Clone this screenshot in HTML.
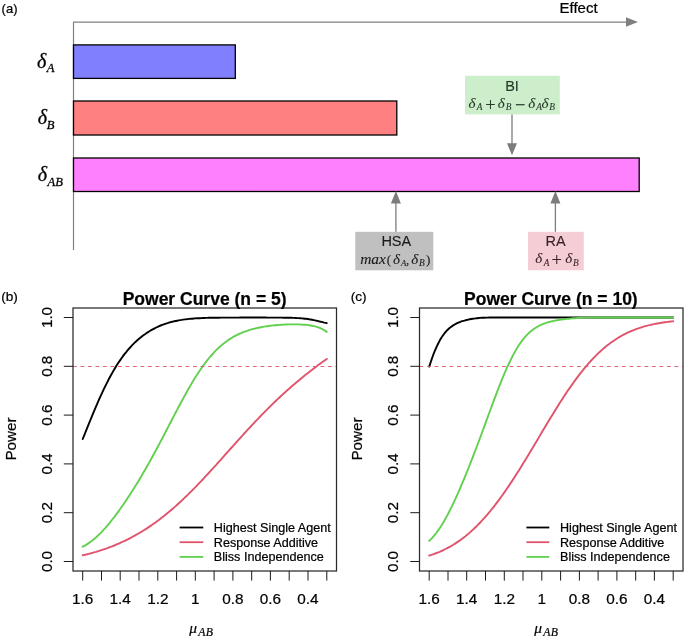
<!DOCTYPE html>
<html><head><meta charset="utf-8"><title>Figure</title>
<style>
html,body{margin:0;padding:0;background:#fff;}
body{width:685px;height:638px;overflow:hidden;font-family:"Liberation Sans",sans-serif;}
svg{display:block;will-change:transform;opacity:0.999;}
text{font-family:"Liberation Sans",sans-serif;fill:#000;stroke:#000;stroke-width:0.22px;stroke-linejoin:round;}
text.m{font-family:"Liberation Serif",serif;font-style:italic;stroke-width:0.2px;}
</style></head>
<body>
<svg width="685" height="638" viewBox="0 0 685 638">
<rect x="0" y="0" width="685" height="638" fill="#ffffff"/>
<!-- panel a -->
<line x1="73.5" y1="22.1" x2="73.5" y2="250" stroke="#808080" stroke-width="1.2"/>
<line x1="73" y1="22.1" x2="628" y2="22.1" stroke="#808080" stroke-width="1.2"/>
<path d="M626,17.3 L638,22 L626,26.7 Z" fill="#808080"/>
<rect x="73.5" y="44.9" width="161.8" height="33.5" fill="#8080FF" stroke="#000" stroke-width="1.3"/>
<rect x="73.5" y="101.0" width="323.3" height="34.0" fill="#FF8080" stroke="#000" stroke-width="1.3"/>
<rect x="73.5" y="158.0" width="565.7" height="33.5" fill="#FF80FF" stroke="#000" stroke-width="1.3"/>
<text class="m" style="fill:#000;stroke:#000;stroke-width:0.3px"><tspan x="37.10" y="68.00" font-size="20">δ</tspan><tspan x="46.73" y="72.20" font-size="12.6">A</tspan></text>
<text class="m" style="fill:#000;stroke:#000;stroke-width:0.3px"><tspan x="37.80" y="124.40" font-size="20">δ</tspan><tspan x="46.67" y="128.60" font-size="12.6">B</tspan></text>
<text class="m" style="fill:#000;stroke:#000;stroke-width:0.3px"><tspan x="37.80" y="181.30" font-size="20">δ</tspan><tspan x="47.43" y="185.50" font-size="12.6">A</tspan><tspan x="55.17" y="185.50" font-size="12.6">B</tspan></text>
<text x="1.6" y="12.8" font-size="13">(a)</text>
<text x="559.5" y="13" font-size="15">Effect</text>
<rect x="465" y="75.8" width="94.8" height="38.6" fill="#cdeecb"/>
<text x="512" y="91" text-anchor="middle" font-size="14.5" style="fill:#26392a;stroke:#26392a;stroke-width:0.12px">BI</text>
<text class="m" style="fill:#26392a;stroke:#26392a;stroke-width:0.1px"><tspan x="468.45" y="107.60" font-size="15">δ</tspan><tspan x="476.76" y="110.08" font-size="9.3">A</tspan><tspan x="485.18" y="110.50" font-size="18.5" font-style="normal">+</tspan><tspan x="497.85" y="107.60" font-size="15">δ</tspan><tspan x="505.71" y="110.08" font-size="9.3">B</tspan><tspan x="515.08" y="110.50" font-size="18.5" font-style="normal">−</tspan><tspan x="528.15" y="107.60" font-size="15">δ</tspan><tspan x="536.26" y="110.08" font-size="9.3">A</tspan><tspan x="541.55" y="107.60" font-size="15">δ</tspan><tspan x="549.31" y="110.08" font-size="9.3">B</tspan></text>
<line x1="512" y1="114.4" x2="512" y2="145" stroke="#7c7c7c" stroke-width="1.3"/>
<path d="M507,143.3 L517,143.3 L512,155.2 Z" fill="#7c7c7c"/>
<rect x="355.3" y="231.8" width="78" height="38.5" fill="#c0c0c0"/>
<text x="396.3" y="245.8" text-anchor="middle" font-size="14.5" style="fill:#1a1a1a;stroke:#1a1a1a;stroke-width:0.12px">HSA</text>
<text class="m" style="fill:#1a1a1a;stroke:#1a1a1a;stroke-width:0.1px"><tspan x="360.18" y="263.50" font-size="15.5">m</tspan><tspan x="371.24" y="263.50" font-size="15.5">a</tspan><tspan x="379.05" y="263.50" font-size="15.5">x</tspan><tspan x="386.68" y="263.50" font-size="13" font-style="normal">(</tspan><tspan x="392.95" y="263.50" font-size="15">δ</tspan><tspan x="401.04" y="265.85" font-size="8.8">A</tspan><tspan x="406.08" y="263.50" font-size="13" font-style="normal">,</tspan><tspan x="411.35" y="263.50" font-size="15">δ</tspan><tspan x="419.11" y="265.98" font-size="9.3">B</tspan><tspan x="426.01" y="263.50" font-size="13" font-style="normal">)</tspan></text>
<line x1="395.9" y1="231.8" x2="395.9" y2="202" stroke="#7c7c7c" stroke-width="1.3"/>
<path d="M390.9,203.6 L400.9,203.6 L395.9,191.0 Z" fill="#7c7c7c"/>
<rect x="528" y="231.8" width="55.8" height="38.5" fill="#f5cdd5"/>
<text x="555.6" y="245.8" text-anchor="middle" font-size="14.5" style="fill:#3a2328;stroke:#3a2328;stroke-width:0.12px">RA</text>
<text class="m" style="fill:#3a2328;stroke:#3a2328;stroke-width:0.1px"><tspan x="535.35" y="263.20" font-size="15">δ</tspan><tspan x="543.67" y="265.68" font-size="9.3">A</tspan><tspan x="551.48" y="266.10" font-size="18.5" font-style="normal">+</tspan><tspan x="565.25" y="263.20" font-size="15">δ</tspan><tspan x="572.91" y="265.68" font-size="9.3">B</tspan></text>
<line x1="555.4" y1="231.8" x2="555.4" y2="202" stroke="#7c7c7c" stroke-width="1.3"/>
<path d="M550.4,203.6 L560.4,203.6 L555.4,191.0 Z" fill="#7c7c7c"/>
<!-- panel b -->
<g fill="none" stroke-width="1.9" stroke-linecap="round" stroke-linejoin="round">
<path d="M82.7,439.0 L84.2,435.3 L85.7,431.6 L87.2,427.9 L88.7,424.2 L90.2,420.5 L91.7,416.9 L93.2,413.2 L94.7,409.6 L96.2,406.1 L97.7,402.6 L99.2,399.2 L100.7,395.8 L102.2,392.6 L103.7,389.4 L105.2,386.3 L106.7,383.3 L108.2,380.3 L109.7,377.5 L111.2,374.7 L112.7,372.1 L114.2,369.5 L115.7,367.0 L117.2,364.6 L118.7,362.3 L120.2,360.1 L121.7,358.0 L123.2,355.9 L124.7,353.9 L126.2,352.1 L127.7,350.2 L129.2,348.5 L130.7,346.8 L132.2,345.2 L133.7,343.7 L135.2,342.2 L136.7,340.8 L138.2,339.5 L139.7,338.2 L141.2,337.0 L142.7,335.8 L144.2,334.7 L145.7,333.7 L147.2,332.6 L148.7,331.7 L150.2,330.8 L151.7,329.9 L153.2,329.1 L154.7,328.3 L156.2,327.5 L157.7,326.8 L159.2,326.1 L160.7,325.5 L162.2,324.9 L163.7,324.4 L165.2,323.8 L166.7,323.3 L168.2,322.9 L169.7,322.4 L171.2,322.0 L172.7,321.6 L174.2,321.3 L175.7,321.0 L177.2,320.7 L178.7,320.4 L180.2,320.1 L181.7,319.9 L183.2,319.6 L184.7,319.4 L186.2,319.3 L187.7,319.1 L189.2,318.9 L190.7,318.8 L192.2,318.7 L193.7,318.5 L195.2,318.4 L196.7,318.3 L198.2,318.2 L199.7,318.2 L201.2,318.1 L202.7,318.0 L204.2,318.0 L205.7,317.9 L207.2,317.9 L208.7,317.8 L210.2,317.8 L211.7,317.8 L213.2,317.7 L214.7,317.7 L216.2,317.7 L217.7,317.7 L219.2,317.7 L220.7,317.6 L222.2,317.6 L223.7,317.6 L225.2,317.6 L226.7,317.6 L228.2,317.6 L229.7,317.6 L231.2,317.6 L232.7,317.6 L234.2,317.6 L235.7,317.6 L237.2,317.6 L238.7,317.6 L240.2,317.5 L241.7,317.5 L243.2,317.5 L244.7,317.5 L246.2,317.5 L247.7,317.5 L249.2,317.5 L250.7,317.5 L252.2,317.5 L253.7,317.5 L255.2,317.5 L256.7,317.5 L258.2,317.5 L259.7,317.5 L261.2,317.5 L262.7,317.5 L264.2,317.5 L265.7,317.5 L267.2,317.6 L268.7,317.6 L270.2,317.6 L271.7,317.6 L273.2,317.6 L274.7,317.6 L276.2,317.6 L277.7,317.6 L279.2,317.6 L280.7,317.6 L282.2,317.6 L283.7,317.7 L285.2,317.7 L286.7,317.7 L288.2,317.7 L289.7,317.8 L291.2,317.8 L292.7,317.9 L294.2,317.9 L295.7,318.0 L297.2,318.1 L298.7,318.1 L300.2,318.2 L301.7,318.4 L303.2,318.5 L304.7,318.7 L306.2,318.8 L307.7,319.0 L309.2,319.3 L310.7,319.5 L312.2,319.8 L313.7,320.1 L315.2,320.4 L316.7,320.8 L318.2,321.1 L319.7,321.5 L321.2,321.8 L322.7,322.2 L324.2,322.6 L325.7,322.9 L326.8,323.1" stroke="#000"/>
<path d="M82.7,555.3 L84.2,555.0 L85.7,554.6 L87.2,554.2 L88.7,553.9 L90.2,553.5 L91.7,553.1 L93.2,552.7 L94.7,552.2 L96.2,551.8 L97.7,551.3 L99.2,550.9 L100.7,550.4 L102.2,549.9 L103.7,549.4 L105.2,548.9 L106.7,548.4 L108.2,547.8 L109.7,547.2 L111.2,546.7 L112.7,546.1 L114.2,545.5 L115.7,544.9 L117.2,544.2 L118.7,543.6 L120.2,542.9 L121.7,542.2 L123.2,541.5 L124.7,540.8 L126.2,540.1 L127.7,539.4 L129.2,538.6 L130.7,537.8 L132.2,537.0 L133.7,536.2 L135.2,535.4 L136.7,534.5 L138.2,533.7 L139.7,532.8 L141.2,531.9 L142.7,531.0 L144.2,530.0 L145.7,529.1 L147.2,528.1 L148.7,527.1 L150.2,526.1 L151.7,525.1 L153.2,524.0 L154.7,523.0 L156.2,521.9 L157.7,520.8 L159.2,519.7 L160.7,518.5 L162.2,517.3 L163.7,516.2 L165.2,515.0 L166.7,513.7 L168.2,512.5 L169.7,511.3 L171.2,510.0 L172.7,508.7 L174.2,507.4 L175.7,506.1 L177.2,504.7 L178.7,503.3 L180.2,502.0 L181.7,500.6 L183.2,499.2 L184.7,497.7 L186.2,496.3 L187.7,494.8 L189.2,493.3 L190.7,491.9 L192.2,490.3 L193.7,488.8 L195.2,487.3 L196.7,485.8 L198.2,484.2 L199.7,482.6 L201.2,481.1 L202.7,479.5 L204.2,477.9 L205.7,476.2 L207.2,474.6 L208.7,473.0 L210.2,471.4 L211.7,469.7 L213.2,468.1 L214.7,466.4 L216.2,464.8 L217.7,463.1 L219.2,461.4 L220.7,459.8 L222.2,458.1 L223.7,456.4 L225.2,454.7 L226.7,453.0 L228.2,451.4 L229.7,449.7 L231.2,448.0 L232.7,446.3 L234.2,444.6 L235.7,443.0 L237.2,441.3 L238.7,439.6 L240.2,438.0 L241.7,436.3 L243.2,434.7 L244.7,433.0 L246.2,431.4 L247.7,429.7 L249.2,428.1 L250.7,426.5 L252.2,424.9 L253.7,423.3 L255.2,421.7 L256.7,420.1 L258.2,418.6 L259.7,417.0 L261.2,415.4 L262.7,413.9 L264.2,412.4 L265.7,410.8 L267.2,409.3 L268.7,407.8 L270.2,406.4 L271.7,404.9 L273.2,403.4 L274.7,402.0 L276.2,400.5 L277.7,399.1 L279.2,397.7 L280.7,396.3 L282.2,394.9 L283.7,393.5 L285.2,392.2 L286.7,390.8 L288.2,389.5 L289.7,388.2 L291.2,386.8 L292.7,385.5 L294.2,384.3 L295.7,383.0 L297.2,381.7 L298.7,380.5 L300.2,379.2 L301.7,378.0 L303.2,376.8 L304.7,375.5 L306.2,374.3 L307.7,373.2 L309.2,372.0 L310.7,370.8 L312.2,369.7 L313.7,368.5 L315.2,367.4 L316.7,366.3 L318.2,365.1 L319.7,364.0 L321.2,362.9 L322.7,361.8 L324.2,360.8 L325.7,359.7 L326.8,358.9" stroke="#DF536B"/>
<path d="M82.7,546.7 L84.2,545.9 L85.7,545.1 L87.2,544.1 L88.7,543.1 L90.2,542.1 L91.7,541.0 L93.2,539.8 L94.7,538.5 L96.2,537.2 L97.7,535.8 L99.2,534.4 L100.7,532.9 L102.2,531.3 L103.7,529.7 L105.2,528.1 L106.7,526.4 L108.2,524.6 L109.7,522.8 L111.2,520.9 L112.7,519.0 L114.2,517.1 L115.7,515.1 L117.2,513.1 L118.7,511.1 L120.2,509.0 L121.7,506.8 L123.2,504.7 L124.7,502.5 L126.2,500.3 L127.7,498.0 L129.2,495.7 L130.7,493.4 L132.2,491.1 L133.7,488.7 L135.2,486.3 L136.7,483.9 L138.2,481.4 L139.7,478.9 L141.2,476.4 L142.7,473.8 L144.2,471.3 L145.7,468.7 L147.2,466.0 L148.7,463.4 L150.2,460.7 L151.7,458.0 L153.2,455.3 L154.7,452.5 L156.2,449.7 L157.7,447.0 L159.2,444.1 L160.7,441.3 L162.2,438.5 L163.7,435.6 L165.2,432.7 L166.7,429.8 L168.2,426.9 L169.7,424.0 L171.2,421.2 L172.7,418.3 L174.2,415.4 L175.7,412.5 L177.2,409.6 L178.7,406.8 L180.2,404.0 L181.7,401.2 L183.2,398.4 L184.7,395.7 L186.2,393.0 L187.7,390.3 L189.2,387.7 L190.7,385.1 L192.2,382.5 L193.7,380.1 L195.2,377.6 L196.7,375.3 L198.2,372.9 L199.7,370.7 L201.2,368.5 L202.7,366.4 L204.2,364.3 L205.7,362.3 L207.2,360.4 L208.7,358.5 L210.2,356.7 L211.7,355.0 L213.2,353.3 L214.7,351.7 L216.2,350.2 L217.7,348.7 L219.2,347.3 L220.7,345.9 L222.2,344.7 L223.7,343.4 L225.2,342.3 L226.7,341.2 L228.2,340.1 L229.7,339.1 L231.2,338.2 L232.7,337.3 L234.2,336.4 L235.7,335.6 L237.2,334.9 L238.7,334.1 L240.2,333.5 L241.7,332.8 L243.2,332.2 L244.7,331.6 L246.2,331.1 L247.7,330.6 L249.2,330.1 L250.7,329.7 L252.2,329.2 L253.7,328.8 L255.2,328.5 L256.7,328.1 L258.2,327.8 L259.7,327.5 L261.2,327.2 L262.7,326.9 L264.2,326.6 L265.7,326.4 L267.2,326.2 L268.7,326.0 L270.2,325.8 L271.7,325.6 L273.2,325.4 L274.7,325.3 L276.2,325.2 L277.7,325.0 L279.2,324.9 L280.7,324.8 L282.2,324.7 L283.7,324.6 L285.2,324.5 L286.7,324.5 L288.2,324.4 L289.7,324.4 L291.2,324.4 L292.7,324.4 L294.2,324.4 L295.7,324.4 L297.2,324.4 L298.7,324.4 L300.2,324.5 L301.7,324.6 L303.2,324.7 L304.7,324.8 L306.2,324.9 L307.7,325.1 L309.2,325.3 L310.7,325.5 L312.2,325.8 L313.7,326.1 L315.2,326.4 L316.7,326.8 L318.2,327.3 L319.7,327.9 L321.2,328.5 L322.7,329.3 L324.2,330.1 L325.7,331.1 L326.8,332.0" stroke="#61D04F"/>
</g>
<line x1="73.0" y1="366.5" x2="336.5" y2="366.5" stroke="#DF536B" stroke-width="0.9" stroke-dasharray="3.8 3.7"/>
<rect x="73.0" y="308.0" width="263.5" height="263.0" fill="none" stroke="#2a2a2a" stroke-width="1.25"/>
<line x1="63.8" y1="561.5" x2="73.0" y2="561.5" stroke="#1a1a1a" stroke-width="1"/>
<text transform="translate(52.0,561.5) rotate(-90)" text-anchor="middle" font-size="15.2">0.0</text>
<line x1="63.8" y1="512.7" x2="73.0" y2="512.7" stroke="#1a1a1a" stroke-width="1"/>
<text transform="translate(52.0,512.7) rotate(-90)" text-anchor="middle" font-size="15.2">0.2</text>
<line x1="63.8" y1="463.9" x2="73.0" y2="463.9" stroke="#1a1a1a" stroke-width="1"/>
<text transform="translate(52.0,463.9) rotate(-90)" text-anchor="middle" font-size="15.2">0.4</text>
<line x1="63.8" y1="415.1" x2="73.0" y2="415.1" stroke="#1a1a1a" stroke-width="1"/>
<text transform="translate(52.0,415.1) rotate(-90)" text-anchor="middle" font-size="15.2">0.6</text>
<line x1="63.8" y1="366.3" x2="73.0" y2="366.3" stroke="#1a1a1a" stroke-width="1"/>
<text transform="translate(52.0,366.3) rotate(-90)" text-anchor="middle" font-size="15.2">0.8</text>
<line x1="63.8" y1="317.5" x2="73.0" y2="317.5" stroke="#1a1a1a" stroke-width="1"/>
<text transform="translate(52.0,317.5) rotate(-90)" text-anchor="middle" font-size="15.2">1.0</text>
<line x1="82.7" y1="571.0" x2="82.7" y2="580.6" stroke="#1a1a1a" stroke-width="1"/>
<line x1="101.5" y1="571.0" x2="101.5" y2="580.6" stroke="#1a1a1a" stroke-width="1"/>
<line x1="120.2" y1="571.0" x2="120.2" y2="580.6" stroke="#1a1a1a" stroke-width="1"/>
<line x1="139.0" y1="571.0" x2="139.0" y2="580.6" stroke="#1a1a1a" stroke-width="1"/>
<line x1="157.8" y1="571.0" x2="157.8" y2="580.6" stroke="#1a1a1a" stroke-width="1"/>
<line x1="176.6" y1="571.0" x2="176.6" y2="580.6" stroke="#1a1a1a" stroke-width="1"/>
<line x1="195.3" y1="571.0" x2="195.3" y2="580.6" stroke="#1a1a1a" stroke-width="1"/>
<line x1="214.1" y1="571.0" x2="214.1" y2="580.6" stroke="#1a1a1a" stroke-width="1"/>
<line x1="232.9" y1="571.0" x2="232.9" y2="580.6" stroke="#1a1a1a" stroke-width="1"/>
<line x1="251.7" y1="571.0" x2="251.7" y2="580.6" stroke="#1a1a1a" stroke-width="1"/>
<line x1="270.4" y1="571.0" x2="270.4" y2="580.6" stroke="#1a1a1a" stroke-width="1"/>
<line x1="289.2" y1="571.0" x2="289.2" y2="580.6" stroke="#1a1a1a" stroke-width="1"/>
<line x1="308.0" y1="571.0" x2="308.0" y2="580.6" stroke="#1a1a1a" stroke-width="1"/>
<line x1="326.8" y1="571.0" x2="326.8" y2="580.6" stroke="#1a1a1a" stroke-width="1"/>
<text x="82.7" y="604.0" text-anchor="middle" font-size="15.3">1.6</text>
<text x="120.2" y="604.0" text-anchor="middle" font-size="15.3">1.4</text>
<text x="157.8" y="604.0" text-anchor="middle" font-size="15.3">1.2</text>
<text x="195.3" y="604.0" text-anchor="middle" font-size="15.3">1</text>
<text x="232.9" y="604.0" text-anchor="middle" font-size="15.3">0.8</text>
<text x="270.4" y="604.0" text-anchor="middle" font-size="15.3">0.6</text>
<text x="308.0" y="604.0" text-anchor="middle" font-size="15.3">0.4</text>
<text x="204.6" y="305.3" text-anchor="middle" font-size="17.5" font-weight="bold">Power Curve (n = 5)</text>
<text x="1.2" y="301.3" font-size="13.6">(b)</text>
<text transform="translate(15.9,439) rotate(-90)" text-anchor="middle" font-size="15.2">Power</text>
<text x="189.3" y="632.5" class="m" font-size="15.5" style="fill:#000;stroke:#000" text-anchor="start"><tspan>μ</tspan><tspan dy="3.10" dx="1.2" font-size="11.78" letter-spacing="0.3">AB</tspan></text>
<line x1="179.6" y1="527.5" x2="203.3" y2="527.5" stroke="#000" stroke-width="1.8"/>
<text x="213.8" y="531.8" font-size="12.6">Highest Single Agent</text>
<line x1="179.6" y1="542.2" x2="203.3" y2="542.2" stroke="#DF536B" stroke-width="1.8"/>
<text x="213.8" y="546.5" font-size="12.6">Response Additive</text>
<line x1="179.6" y1="556.9" x2="203.3" y2="556.9" stroke="#61D04F" stroke-width="1.8"/>
<text x="213.8" y="561.2" font-size="12.6">Bliss Independence</text>
<!-- panel c -->
<g fill="none" stroke-width="1.9" stroke-linecap="round" stroke-linejoin="round">
<path d="M429.2,366.6 L430.7,362.1 L432.2,357.8 L433.7,353.7 L435.2,350.0 L436.7,346.6 L438.2,343.5 L439.7,340.6 L441.2,338.1 L442.7,335.8 L444.2,333.7 L445.7,331.9 L447.2,330.2 L448.7,328.8 L450.2,327.5 L451.7,326.4 L453.2,325.4 L454.7,324.5 L456.2,323.7 L457.7,322.9 L459.2,322.3 L460.7,321.7 L462.2,321.2 L463.7,320.8 L465.2,320.4 L466.7,320.0 L468.2,319.6 L469.7,319.3 L471.2,319.0 L472.7,318.8 L474.2,318.6 L475.7,318.4 L477.2,318.2 L478.7,318.0 L480.2,317.9 L481.7,317.8 L483.2,317.7 L484.7,317.7 L486.2,317.6 L487.7,317.6 L489.2,317.5 L490.7,317.5 L492.2,317.5 L493.7,317.5 L495.2,317.5 L496.7,317.5 L498.2,317.5 L499.7,317.5 L501.2,317.5 L502.7,317.5 L504.2,317.5 L505.7,317.5 L507.2,317.5 L508.7,317.5 L510.2,317.5 L511.7,317.5 L513.2,317.5 L514.7,317.5 L516.2,317.5 L517.7,317.5 L519.2,317.5 L520.7,317.5 L522.2,317.5 L523.7,317.5 L525.2,317.5 L526.7,317.5 L528.2,317.5 L529.7,317.5 L531.2,317.5 L532.7,317.5 L534.2,317.5 L535.7,317.5 L537.2,317.5 L538.7,317.5 L540.2,317.5 L541.7,317.5 L543.2,317.5 L544.7,317.5 L546.2,317.5 L547.7,317.5 L549.2,317.5 L550.7,317.5 L552.2,317.5 L553.7,317.5 L555.2,317.5 L556.7,317.5 L558.2,317.5 L559.7,317.5 L561.2,317.5 L562.7,317.5 L564.2,317.5 L565.7,317.5 L567.2,317.5 L568.7,317.5 L570.2,317.5 L571.7,317.5 L573.2,317.5 L574.7,317.5 L576.2,317.5 L577.7,317.5 L579.2,317.5 L580.7,317.5 L582.2,317.5 L583.7,317.5 L585.2,317.5 L586.7,317.5 L588.2,317.5 L589.7,317.5 L591.2,317.5 L592.7,317.5 L594.2,317.5 L595.7,317.5 L597.2,317.5 L598.7,317.5 L600.2,317.5 L601.7,317.5 L603.2,317.5 L604.7,317.5 L606.2,317.5 L607.7,317.5 L609.2,317.5 L610.7,317.5 L612.2,317.5 L613.7,317.5 L615.2,317.5 L616.7,317.5 L618.2,317.5 L619.7,317.5 L621.2,317.5 L622.7,317.5 L624.2,317.5 L625.7,317.5 L627.2,317.5 L628.7,317.5 L630.2,317.5 L631.7,317.5 L633.2,317.5 L634.7,317.5 L636.2,317.5 L637.7,317.5 L639.2,317.5 L640.7,317.5 L642.2,317.5 L643.7,317.5 L645.2,317.5 L646.7,317.5 L648.2,317.5 L649.7,317.5 L651.2,317.5 L652.7,317.5 L654.2,317.5 L655.7,317.5 L657.2,317.5 L658.7,317.5 L660.2,317.5 L661.7,317.5 L663.2,317.5 L664.7,317.5 L666.2,317.5 L667.7,317.5 L669.2,317.5 L670.7,317.5 L672.2,317.5 L673.2,317.5" stroke="#000"/>
<path d="M429.2,555.5 L430.7,555.1 L432.2,554.6 L433.7,554.1 L435.2,553.5 L436.7,553.0 L438.2,552.4 L439.7,551.8 L441.2,551.1 L442.7,550.5 L444.2,549.7 L445.7,549.0 L447.2,548.2 L448.7,547.4 L450.2,546.6 L451.7,545.7 L453.2,544.8 L454.7,543.9 L456.2,542.9 L457.7,541.9 L459.2,540.9 L460.7,539.8 L462.2,538.7 L463.7,537.6 L465.2,536.4 L466.7,535.1 L468.2,533.9 L469.7,532.6 L471.2,531.3 L472.7,529.9 L474.2,528.5 L475.7,527.0 L477.2,525.6 L478.7,524.0 L480.2,522.5 L481.7,520.9 L483.2,519.2 L484.7,517.6 L486.2,515.9 L487.7,514.1 L489.2,512.3 L490.7,510.5 L492.2,508.7 L493.7,506.8 L495.2,504.9 L496.7,502.9 L498.2,500.9 L499.7,498.9 L501.2,496.8 L502.7,494.7 L504.2,492.6 L505.7,490.5 L507.2,488.3 L508.7,486.1 L510.2,483.8 L511.7,481.6 L513.2,479.3 L514.7,477.0 L516.2,474.6 L517.7,472.3 L519.2,469.9 L520.7,467.5 L522.2,465.1 L523.7,462.6 L525.2,460.2 L526.7,457.7 L528.2,455.2 L529.7,452.7 L531.2,450.2 L532.7,447.7 L534.2,445.2 L535.7,442.7 L537.2,440.2 L538.7,437.7 L540.2,435.1 L541.7,432.6 L543.2,430.1 L544.7,427.6 L546.2,425.1 L547.7,422.6 L549.2,420.1 L550.7,417.6 L552.2,415.2 L553.7,412.7 L555.2,410.3 L556.7,407.9 L558.2,405.5 L559.7,403.1 L561.2,400.8 L562.7,398.4 L564.2,396.1 L565.7,393.9 L567.2,391.6 L568.7,389.4 L570.2,387.2 L571.7,385.1 L573.2,383.0 L574.7,380.9 L576.2,378.9 L577.7,376.9 L579.2,374.9 L580.7,372.9 L582.2,371.1 L583.7,369.2 L585.2,367.4 L586.7,365.6 L588.2,363.9 L589.7,362.2 L591.2,360.5 L592.7,358.9 L594.2,357.4 L595.7,355.8 L597.2,354.3 L598.7,352.9 L600.2,351.5 L601.7,350.1 L603.2,348.8 L604.7,347.5 L606.2,346.3 L607.7,345.1 L609.2,344.0 L610.7,342.8 L612.2,341.8 L613.7,340.7 L615.2,339.7 L616.7,338.7 L618.2,337.8 L619.7,336.9 L621.2,336.0 L622.7,335.2 L624.2,334.4 L625.7,333.7 L627.2,332.9 L628.7,332.2 L630.2,331.5 L631.7,330.9 L633.2,330.3 L634.7,329.7 L636.2,329.1 L637.7,328.6 L639.2,328.1 L640.7,327.6 L642.2,327.1 L643.7,326.7 L645.2,326.2 L646.7,325.8 L648.2,325.4 L649.7,325.1 L651.2,324.7 L652.7,324.4 L654.2,324.1 L655.7,323.8 L657.2,323.5 L658.7,323.2 L660.2,323.0 L661.7,322.7 L663.2,322.5 L664.7,322.3 L666.2,322.1 L667.7,321.9 L669.2,321.7 L670.7,321.5 L672.2,321.4 L673.2,321.2" stroke="#DF536B"/>
<path d="M429.2,540.8 L430.7,539.4 L432.2,537.9 L433.7,536.2 L435.2,534.4 L436.7,532.5 L438.2,530.4 L439.7,528.2 L441.2,525.9 L442.7,523.5 L444.2,521.0 L445.7,518.3 L447.2,515.6 L448.7,512.7 L450.2,509.7 L451.7,506.7 L453.2,503.6 L454.7,500.4 L456.2,497.1 L457.7,493.8 L459.2,490.4 L460.7,486.9 L462.2,483.4 L463.7,479.8 L465.2,476.2 L466.7,472.5 L468.2,468.8 L469.7,465.0 L471.2,461.2 L472.7,457.3 L474.2,453.4 L475.7,449.5 L477.2,445.5 L478.7,441.5 L480.2,437.5 L481.7,433.5 L483.2,429.4 L484.7,425.3 L486.2,421.2 L487.7,417.1 L489.2,413.0 L490.7,409.0 L492.2,404.9 L493.7,400.9 L495.2,396.9 L496.7,392.9 L498.2,389.0 L499.7,385.2 L501.2,381.4 L502.7,377.7 L504.2,374.1 L505.7,370.6 L507.2,367.2 L508.7,364.0 L510.2,360.8 L511.7,357.8 L513.2,354.9 L514.7,352.2 L516.2,349.6 L517.7,347.1 L519.2,344.8 L520.7,342.6 L522.2,340.5 L523.7,338.6 L525.2,336.9 L526.7,335.2 L528.2,333.7 L529.7,332.3 L531.2,331.0 L532.7,329.8 L534.2,328.7 L535.7,327.7 L537.2,326.8 L538.7,326.0 L540.2,325.2 L541.7,324.6 L543.2,323.9 L544.7,323.4 L546.2,322.9 L547.7,322.4 L549.2,322.0 L550.7,321.6 L552.2,321.2 L553.7,320.9 L555.2,320.6 L556.7,320.3 L558.2,320.1 L559.7,319.8 L561.2,319.6 L562.7,319.4 L564.2,319.2 L565.7,319.1 L567.2,318.9 L568.7,318.7 L570.2,318.6 L571.7,318.4 L573.2,318.3 L574.7,318.2 L576.2,318.1 L577.7,318.0 L579.2,317.9 L580.7,317.8 L582.2,317.7 L583.7,317.7 L585.2,317.6 L586.7,317.6 L588.2,317.6 L589.7,317.5 L591.2,317.5 L592.7,317.5 L594.2,317.5 L595.7,317.5 L597.2,317.5 L598.7,317.5 L600.2,317.5 L601.7,317.5 L603.2,317.5 L604.7,317.5 L606.2,317.5 L607.7,317.5 L609.2,317.5 L610.7,317.5 L612.2,317.5 L613.7,317.5 L615.2,317.5 L616.7,317.5 L618.2,317.5 L619.7,317.5 L621.2,317.5 L622.7,317.5 L624.2,317.5 L625.7,317.5 L627.2,317.5 L628.7,317.5 L630.2,317.5 L631.7,317.5 L633.2,317.5 L634.7,317.5 L636.2,317.5 L637.7,317.5 L639.2,317.5 L640.7,317.5 L642.2,317.5 L643.7,317.5 L645.2,317.5 L646.7,317.5 L648.2,317.5 L649.7,317.5 L651.2,317.5 L652.7,317.5 L654.2,317.5 L655.7,317.5 L657.2,317.5 L658.7,317.5 L660.2,317.5 L661.7,317.5 L663.2,317.5 L664.7,317.5 L666.2,317.5 L667.7,317.5 L669.2,317.5 L670.7,317.5 L672.2,317.5 L673.2,317.5" stroke="#61D04F"/>
</g>
<line x1="419.5" y1="366.5" x2="683.0" y2="366.5" stroke="#DF536B" stroke-width="0.9" stroke-dasharray="3.8 3.7"/>
<rect x="419.5" y="308.0" width="263.5" height="263.0" fill="none" stroke="#2a2a2a" stroke-width="1.25"/>
<line x1="410.3" y1="561.5" x2="419.5" y2="561.5" stroke="#1a1a1a" stroke-width="1"/>
<text transform="translate(398.3,561.5) rotate(-90)" text-anchor="middle" font-size="15.2">0.0</text>
<line x1="410.3" y1="512.7" x2="419.5" y2="512.7" stroke="#1a1a1a" stroke-width="1"/>
<text transform="translate(398.3,512.7) rotate(-90)" text-anchor="middle" font-size="15.2">0.2</text>
<line x1="410.3" y1="463.9" x2="419.5" y2="463.9" stroke="#1a1a1a" stroke-width="1"/>
<text transform="translate(398.3,463.9) rotate(-90)" text-anchor="middle" font-size="15.2">0.4</text>
<line x1="410.3" y1="415.1" x2="419.5" y2="415.1" stroke="#1a1a1a" stroke-width="1"/>
<text transform="translate(398.3,415.1) rotate(-90)" text-anchor="middle" font-size="15.2">0.6</text>
<line x1="410.3" y1="366.3" x2="419.5" y2="366.3" stroke="#1a1a1a" stroke-width="1"/>
<text transform="translate(398.3,366.3) rotate(-90)" text-anchor="middle" font-size="15.2">0.8</text>
<line x1="410.3" y1="317.5" x2="419.5" y2="317.5" stroke="#1a1a1a" stroke-width="1"/>
<text transform="translate(398.3,317.5) rotate(-90)" text-anchor="middle" font-size="15.2">1.0</text>
<line x1="429.2" y1="571.0" x2="429.2" y2="580.6" stroke="#1a1a1a" stroke-width="1"/>
<line x1="448.0" y1="571.0" x2="448.0" y2="580.6" stroke="#1a1a1a" stroke-width="1"/>
<line x1="466.7" y1="571.0" x2="466.7" y2="580.6" stroke="#1a1a1a" stroke-width="1"/>
<line x1="485.5" y1="571.0" x2="485.5" y2="580.6" stroke="#1a1a1a" stroke-width="1"/>
<line x1="504.3" y1="571.0" x2="504.3" y2="580.6" stroke="#1a1a1a" stroke-width="1"/>
<line x1="523.0" y1="571.0" x2="523.0" y2="580.6" stroke="#1a1a1a" stroke-width="1"/>
<line x1="541.8" y1="571.0" x2="541.8" y2="580.6" stroke="#1a1a1a" stroke-width="1"/>
<line x1="560.6" y1="571.0" x2="560.6" y2="580.6" stroke="#1a1a1a" stroke-width="1"/>
<line x1="579.4" y1="571.0" x2="579.4" y2="580.6" stroke="#1a1a1a" stroke-width="1"/>
<line x1="598.1" y1="571.0" x2="598.1" y2="580.6" stroke="#1a1a1a" stroke-width="1"/>
<line x1="616.9" y1="571.0" x2="616.9" y2="580.6" stroke="#1a1a1a" stroke-width="1"/>
<line x1="635.7" y1="571.0" x2="635.7" y2="580.6" stroke="#1a1a1a" stroke-width="1"/>
<line x1="654.4" y1="571.0" x2="654.4" y2="580.6" stroke="#1a1a1a" stroke-width="1"/>
<line x1="673.2" y1="571.0" x2="673.2" y2="580.6" stroke="#1a1a1a" stroke-width="1"/>
<text x="429.2" y="604.0" text-anchor="middle" font-size="15.3">1.6</text>
<text x="466.7" y="604.0" text-anchor="middle" font-size="15.3">1.4</text>
<text x="504.3" y="604.0" text-anchor="middle" font-size="15.3">1.2</text>
<text x="541.8" y="604.0" text-anchor="middle" font-size="15.3">1</text>
<text x="579.4" y="604.0" text-anchor="middle" font-size="15.3">0.8</text>
<text x="616.9" y="604.0" text-anchor="middle" font-size="15.3">0.6</text>
<text x="654.4" y="604.0" text-anchor="middle" font-size="15.3">0.4</text>
<text x="550.9" y="305.3" text-anchor="middle" font-size="17.5" font-weight="bold">Power Curve (n = 10)</text>
<text x="350.7" y="301.3" font-size="13.6">(c)</text>
<text transform="translate(362.4,439) rotate(-90)" text-anchor="middle" font-size="15.2">Power</text>
<text x="534.3" y="632.5" class="m" font-size="15.5" style="fill:#000;stroke:#000" text-anchor="start"><tspan>μ</tspan><tspan dy="3.10" dx="1.2" font-size="11.78" letter-spacing="0.3">AB</tspan></text>
<line x1="526.4" y1="527.5" x2="549.3" y2="527.5" stroke="#000" stroke-width="1.8"/>
<text x="560" y="531.8" font-size="12.6">Highest Single Agent</text>
<line x1="526.4" y1="542.2" x2="549.3" y2="542.2" stroke="#DF536B" stroke-width="1.8"/>
<text x="560" y="546.5" font-size="12.6">Response Additive</text>
<line x1="526.4" y1="556.9" x2="549.3" y2="556.9" stroke="#61D04F" stroke-width="1.8"/>
<text x="560" y="561.2" font-size="12.6">Bliss Independence</text>
</svg>
</body></html>
